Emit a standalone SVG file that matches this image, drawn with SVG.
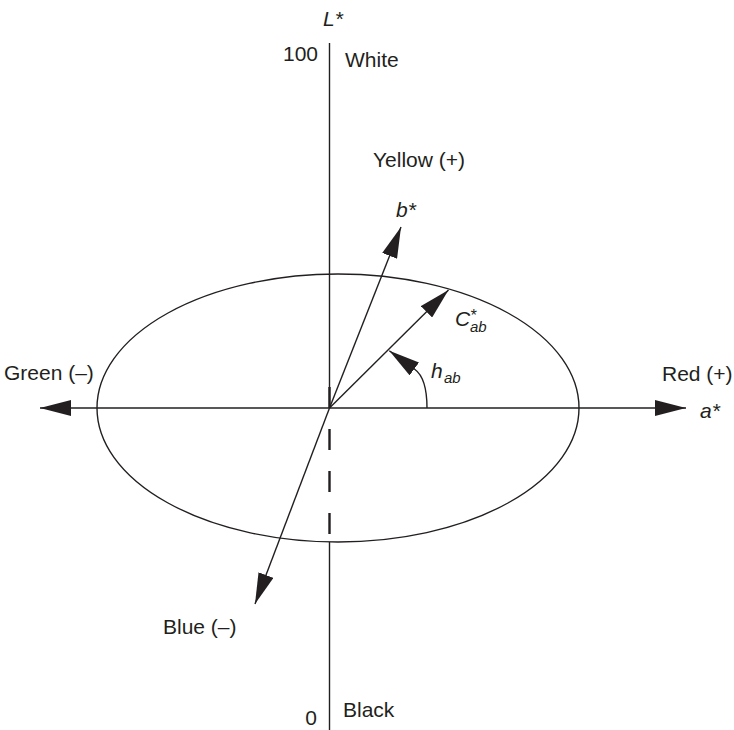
<svg xmlns="http://www.w3.org/2000/svg" width="734" height="730" viewBox="0 0 734 730">
  <defs>
    <marker id="arrow" viewBox="0 -8 31 16" refX="31" refY="0" markerWidth="31" markerHeight="16" markerUnits="userSpaceOnUse" orient="auto">
      <path d="M0,-8 L31,0 L0,8 Z" fill="#231f20"/>
    </marker>
  </defs>
  <style>
    .ln { stroke: #231f20; stroke-width: 1.4; fill: none; }
    .dash { stroke: #231f20; stroke-width: 2.4; fill: none; stroke-dasharray: 21 21; }
    .t { font-family: "Liberation Sans", Arial, Helvetica, sans-serif; font-size: 21px; fill: #231f20; }
    .i { font-style: italic; }
    .sub { font-size: 15px; font-style: italic; }
    .ast { font-size: 16px; font-style: italic; }
  </style>
  <rect width="734" height="730" fill="#ffffff"/>

  <g id="ellipse">
    <ellipse class="ln" cx="338" cy="408" rx="241" ry="134"/>
  </g>

  <g id="connectors">
    <line class="ln" x1="329.5" y1="43" x2="329.5" y2="408"/>
    <line class="dash" x1="329.5" y1="387" x2="329.5" y2="540"/>
    <line class="ln" x1="329.5" y1="542" x2="329.5" y2="730"/>
    <line class="ln" x1="329.5" y1="408" x2="40" y2="408" marker-end="url(#arrow)"/>
    <line class="ln" x1="329.5" y1="408" x2="686" y2="408" marker-end="url(#arrow)"/>
    <line class="ln" x1="329.5" y1="408" x2="401" y2="227" marker-end="url(#arrow)"/>
    <line class="ln" x1="329.5" y1="408" x2="255" y2="604" marker-end="url(#arrow)"/>
    <line class="ln" x1="329.5" y1="408" x2="448.5" y2="290" marker-end="url(#arrow)"/>
    <path class="ln" d="M427,408 Q427,378 414.7,369.2 L389.3,350.7" marker-end="url(#arrow)"/>
  </g>

  <g id="L-axis">
    <text class="t i" x="323" y="26">L*</text>
    <text class="t" x="318" y="61" text-anchor="end">100</text>
    <text class="t" x="345" y="67">White</text>
    <text class="t" x="317" y="725" text-anchor="end">0</text>
    <text class="t" x="343" y="717">Black</text>
  </g>

  <g id="b-axis">
    <text class="t" x="373" y="167">Yellow (+)</text>
    <text class="t i" x="396" y="217">b*</text>
    <text class="t" x="163" y="634">Blue (–)</text>
  </g>

  <g id="a-axis">
    <text class="t" x="4" y="380">Green (–)</text>
    <text class="t" x="662" y="381">Red (+)</text>
    <text class="t i" x="700" y="418">a*</text>
  </g>

  <g id="chroma">
    <text class="t i" x="455" y="326">C<tspan class="ast" x="470" y="321">*</tspan><tspan class="sub" x="470" y="332">ab</tspan></text>
  </g>

  <g id="hue">
    <text class="t i" x="431" y="378">h<tspan class="sub" x="444" y="383">ab</tspan></text>
  </g>
</svg>
